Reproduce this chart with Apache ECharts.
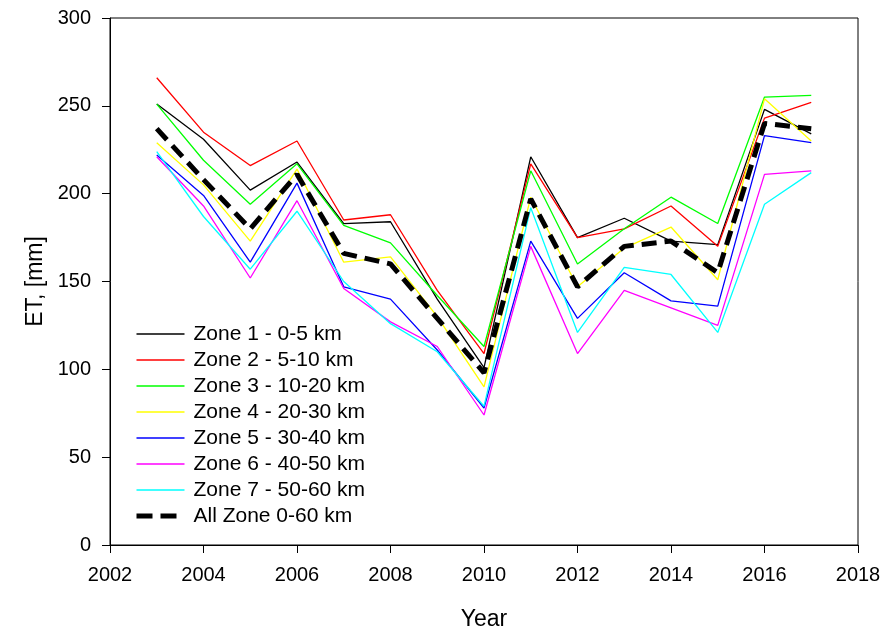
<!DOCTYPE html>
<html>
<head>
<meta charset="utf-8">
<script src="https://cdn.jsdelivr.net/npm/echarts@6/dist/echarts.min.js"></script>
<style>
  html, body { margin: 0; padding: 0; background: #fff; }
  #chart { width: 885px; height: 630px; }
</style>
</head>
<body>
<div id="chart"></div>
<script>
// Annual evapotranspiration per distance zone, 2003-2017
const years = [2003, 2004, 2005, 2006, 2007, 2008, 2009, 2010, 2011, 2012, 2013, 2014, 2015, 2016, 2017];

const zone1 = [251, 231, 202, 218, 183, 184, 140, 101, 221, 175, 186, 173, 171, 248, 234];
const zone2 = [266, 235, 216, 230, 185, 188, 145, 109, 217, 175, 180, 193, 170, 243, 252];
const zone3 = [251, 219, 194, 217, 182, 172, 142, 113, 213, 160, 180, 198, 183, 255, 256];
const zone4 = [229, 205, 173, 214, 161, 164, 130, 90, 198, 147, 169, 181, 151, 254, 230];
const zone5 = [222, 199, 161, 206, 147, 140, 111, 78, 173, 129, 155, 139, 136, 233, 229];
const zone6 = [221, 193, 152, 196, 146, 127, 113, 74, 170, 109, 145, 135, 125, 211, 213];
const zone7 = [224, 187, 157, 190, 150, 126, 110, 79, 192, 121, 158, 154, 121, 194, 212];
const allZones = [237, 208, 180, 211, 166, 160, 129, 98, 197, 147, 170, 173, 155, 240, 237];

const seriesNames = [
  'Zone 1 - 0-5 km',
  'Zone 2 - 5-10 km',
  'Zone 3 - 10-20 km',
  'Zone 4 - 20-30 km',
  'Zone 5 - 30-40 km',
  'Zone 6 - 40-50 km',
  'Zone 7 - 50-60 km',
  'All Zone 0-60 km'
];
const seriesValues = [zone1, zone2, zone3, zone4, zone5, zone6, zone7, allZones];
const seriesColors = ['#000000', '#ff0000', '#00ff00', '#ffff00', '#0000ff', '#ff00ff', '#00ffff', '#000000'];

const xTicks = { min: 2002, max: 2018, step: 2 };
const yTicks = { min: 0, max: 300, step: 50 };

const FONT = 'Liberation Sans, Arial, sans-serif';
const lastIndex = seriesValues.length - 1;

const series = seriesValues.map((vals, i) => {
  const isAll = i === lastIndex;
  return {
    name: seriesNames[i],
    type: 'line',
    data: years.map((y, k) => [y, vals[k]]),
    symbol: 'none',
    showSymbol: false,
    animation: false,
    z: isAll ? 10 : 2,
    lineStyle: {
      color: seriesColors[i],
      width: isAll ? 5 : 1.3,
      type: isAll ? [15, 8] : 'solid'
    },
    itemStyle: { color: seriesColors[i] }
  };
});

const legendData = seriesNames.map((name, i) => (
  i === lastIndex
    ? { name, lineStyle: { width: 5, type: [16, 8] } }
    : { name, lineStyle: { width: 1.3 } }
));

const chart = echarts.init(document.getElementById('chart'), null, { renderer: 'canvas' });
chart.setOption({
  animation: false,
  backgroundColor: '#ffffff',
  grid: {
    left: 110, top: 18, width: 748, height: 527,
    outerBoundsMode: 'none', containLabel: false,
    show: true, borderColor: '#000', borderWidth: 1, backgroundColor: 'transparent'
  },
  legend: {
    orient: 'vertical',
    left: 134, top: 323, padding: 0,
    itemWidth: 48, itemHeight: 14, itemGap: 4,
    itemStyle: { opacity: 0 },
    textStyle: { fontFamily: FONT, fontSize: 21, color: '#000', lineHeight: 22, padding: [0, 0, 0, 4] },
    data: legendData
  },
  xAxis: {
    type: 'value',
    min: xTicks.min, max: xTicks.max, interval: xTicks.step,
    name: 'Year', nameLocation: 'middle', nameGap: 63,
    nameTextStyle: { fontFamily: FONT, fontSize: 23, color: '#000' },
    splitLine: { show: false },
    axisLine: { show: true, lineStyle: { color: '#000', width: 1 } },
    axisTick: { show: true, inside: false, length: 8, lineStyle: { color: '#000' } },
    axisLabel: { fontFamily: FONT, fontSize: 20, color: '#000', margin: 20, formatter: v => String(v) }
  },
  yAxis: {
    type: 'value',
    min: yTicks.min, max: yTicks.max, interval: yTicks.step,
    name: 'ET, [mm]', nameLocation: 'middle', nameGap: 62,
    nameTextStyle: { fontFamily: FONT, fontSize: 23, color: '#000' },
    splitLine: { show: false },
    axisLine: { show: true, lineStyle: { color: '#000', width: 1 } },
    axisTick: { show: true, inside: false, length: 8, lineStyle: { color: '#000' } },
    axisLabel: { fontFamily: FONT, fontSize: 20, color: '#000', margin: 19 }
  },
  series: series
});
</script>
</body>
</html>
